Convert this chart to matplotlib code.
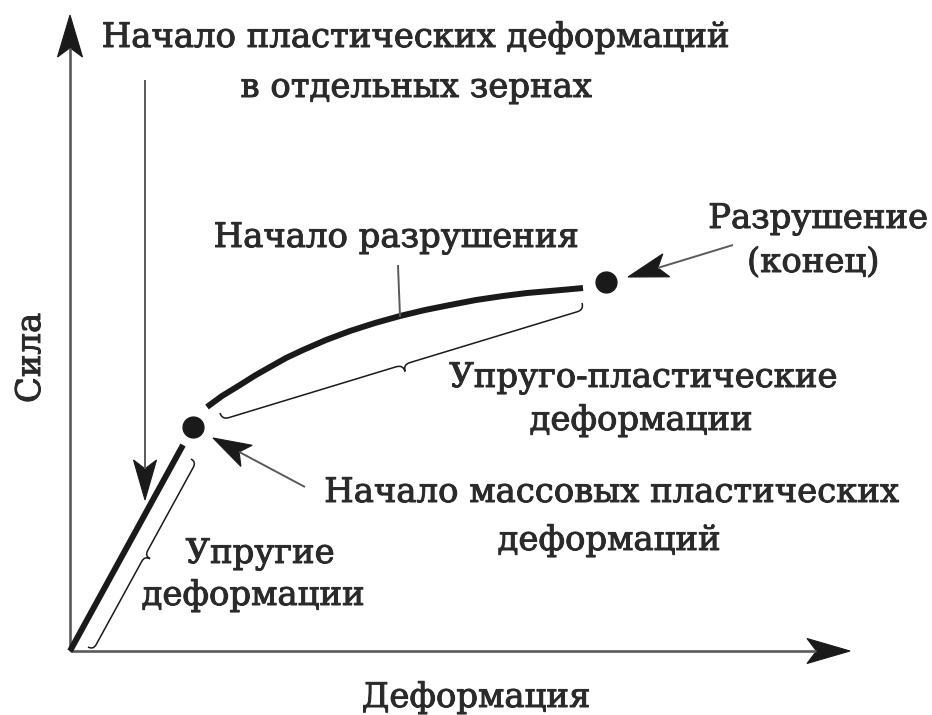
import matplotlib
matplotlib.use("Agg")
import matplotlib.pyplot as plt
import matplotlib.patheffects as pe
import numpy as np
from matplotlib.path import Path
from matplotlib.patches import PathPatch, Polygon

# Кривая "сила - деформация" (условные единицы, 1 ед. = 1 пиксель)
elastic_x = [0, 113]
elastic_y = [0, 206]
plastic_x = [137, 152, 170, 185, 200, 216, 233, 256, 280, 305, 330,
             355, 380, 406, 433, 457, 480, 497, 513]
plastic_y = [244, 255, 266, 275.5, 284, 293, 301, 311, 320, 328, 335,
             341, 346, 351, 355, 358, 360, 361.5, 363]
yield_point = (123, 224)      # начало массовых пластических деформаций
fracture_point = (536, 369)   # разрушение (конец)

axis_labels = ["Деформация", "Сила"]
labels_top = ["Начало пластических деформаций", "в отдельных зернах"]
label_crack = "Начало разрушения"
label_fracture = ["Разрушение", "(конец)"]
label_elastoplastic = ["Упруго-пластические", "деформации"]
label_mass = ["Начало массовых пластических", "деформаций"]
label_elastic = ["Упругие", "деформации"]

INK = "#1a1a1a"
AXIS = "#5a5a5a"
TEXT = "#2a2a2a"
FONT = dict(family="DejaVu Serif", fontsize=24.4, color=TEXT,
            path_effects=[pe.withStroke(linewidth=0.7, foreground=TEXT)])


def arrow(ax, tail, tip, color, lw, head_len=40, head_w=24):
    """Линия со стрелкой-наконечником (остроконечный, с выемкой)."""
    tail = np.asarray(tail, float)
    tip = np.asarray(tip, float)
    d = (tip - tail) / np.linalg.norm(tip - tail)
    p = np.array([-d[1], d[0]])
    back = tip - d * head_len
    notch = tip - d * head_len * 0.78
    ax.plot([tail[0], notch[0]], [tail[1], notch[1]], color=color, lw=lw,
            solid_capstyle="butt")
    head = [tip, back + p * head_w / 2, notch, back - p * head_w / 2]
    ax.add_patch(Polygon(head, closed=True, facecolor=INK, edgecolor=INK, lw=0.8))


def brace(ax, p1, p2, n, h, t, lw=1.1):
    """Фигурная скобка от p1 до p2, выгнутая в сторону нормали n."""
    p1 = np.asarray(p1, float)
    p2 = np.asarray(p2, float)
    n = np.asarray(n, float) / np.linalg.norm(n)
    u = (p2 - p1) / np.linalg.norm(p2 - p1)
    mid = (p1 + p2) / 2
    verts = [
        p1,
        p1 + n * h, p1 + n * h + u * h,
        mid - u * h + n * h,
        mid + n * h, mid + n * t,
        mid + n * h, mid + u * h + n * h,
        p2 - u * h + n * h,
        p2 + n * h, p2,
    ]
    codes = [Path.MOVETO,
             Path.CURVE3, Path.CURVE3,
             Path.LINETO,
             Path.CURVE3, Path.CURVE3,
             Path.CURVE3, Path.CURVE3,
             Path.LINETO,
             Path.CURVE3, Path.CURVE3]
    ax.add_patch(PathPatch(Path(verts, codes), facecolor="none",
                           edgecolor=INK, lw=lw))


fig = plt.figure(figsize=(9.32, 7.15), dpi=100)
ax = fig.add_axes([0, 0, 1, 1])
ax.set_xlim(-70, 862)
ax.set_ylim(-64, 651)
ax.axis("off")

# оси
arrow(ax, (0, 0), (0, 636), AXIS, 1.9, head_len=42, head_w=25)
arrow(ax, (0, 0), (780, 0), AXIS, 1.9, head_len=43, head_w=25)

# кривая нагружения
line_kw = dict(color=INK, lw=4.3, solid_capstyle="butt", solid_joinstyle="round")
ax.plot(elastic_x, elastic_y, **line_kw)
ax.plot(plastic_x, plastic_y, **line_kw)
ax.plot(*yield_point, "o", ms=15, color=INK)
ax.plot(*fracture_point, "o", ms=15, color=INK)

# скобки
brace(ax, (18, 4), (121, 192), (0.877, -0.481), 6, 12)
brace(ax, (150, 238), (512, 348), (0.291, -0.957), 7, 14)

# выноски
arrow(ax, (75, 571), (75, 151), AXIS, 1.4, head_len=40, head_w=23)
arrow(ax, (235, 164), (143, 213), AXIS, 1.4, head_len=38, head_w=24)
arrow(ax, (663, 406), (558, 374), AXIS, 1.4, head_len=40, head_w=24)
ax.plot([330, 328], [335, 385], color=AXIS, lw=1.4)


# подписи
def label(x, y, s, **kw):
    ax.text(x, y, s, ha="center", va="baseline", **FONT, **kw)


label(406, -56, axis_labels[0])
label(-30, 293, axis_labels[1], rotation=90, rotation_mode="anchor")
label(345, 604, labels_top[0])
label(346, 554, labels_top[1])
label(326, 404, label_crack)
label(748, 423, label_fracture[0])
label(743, 379, label_fracture[1])
label(573, 264, label_elastoplastic[0])
label(571, 221, label_elastoplastic[1])
label(541, 149, label_mass[0])
label(539, 101, label_mass[1])
label(190, 88, label_elastic[0])
label(183, 46, label_elastic[1])

fig.savefig("out.png", dpi=100)
